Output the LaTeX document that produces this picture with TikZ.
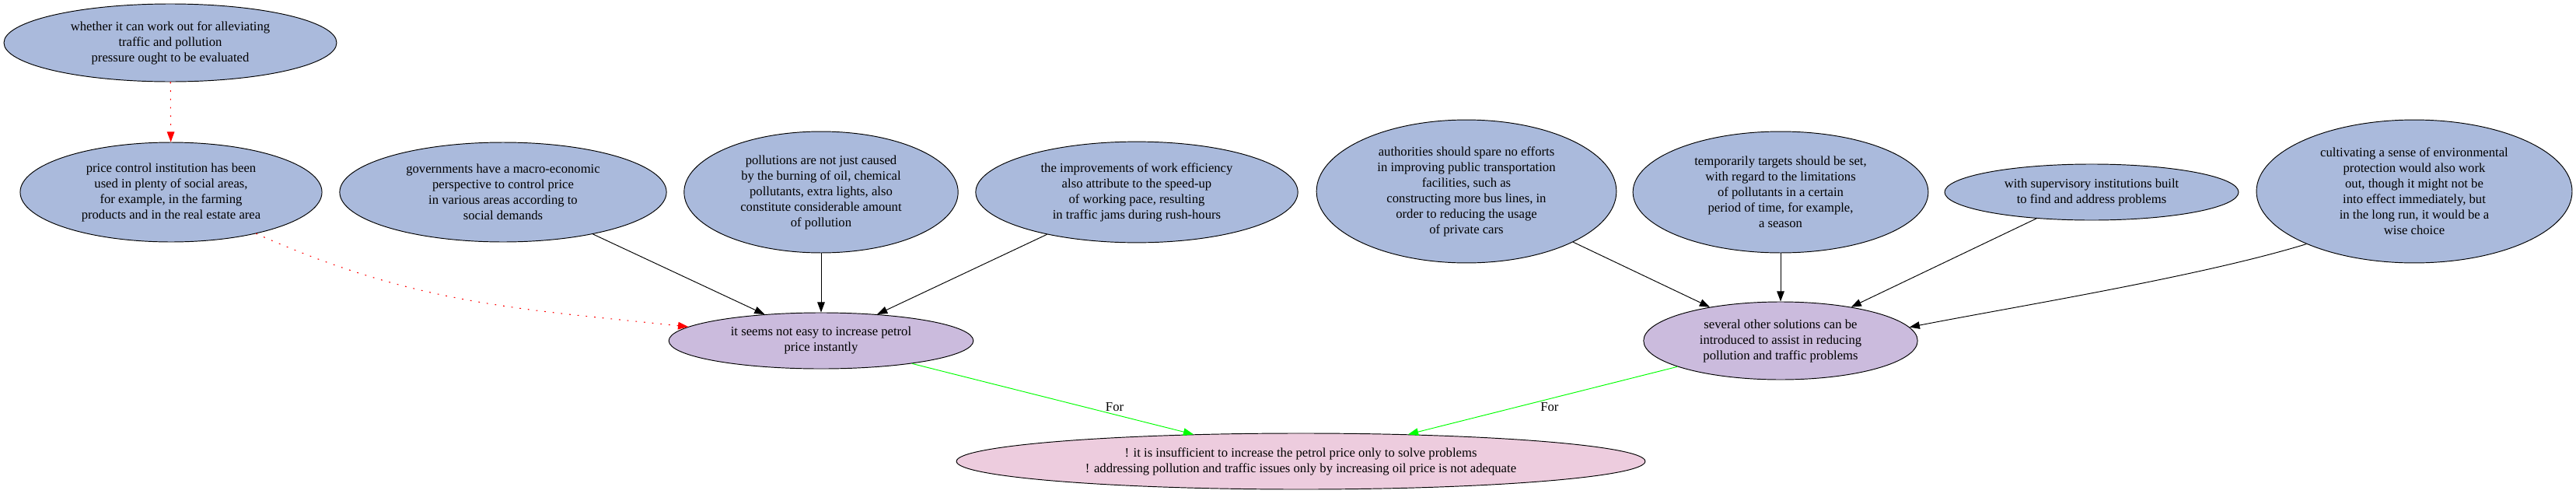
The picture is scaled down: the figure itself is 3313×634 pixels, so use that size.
\documentclass[tikz,border=0pt]{standalone}
\usepackage{fontspec}
\setmainfont{Liberation Serif}
\usepackage{xcolor}
\usetikzlibrary{shapes.geometric,arrows.meta}

\definecolor{premisefill}{RGB}{170,186,220}
\definecolor{claimfill}{RGB}{203,187,221}
\definecolor{majorfill}{RGB}{237,204,222}

\begin{document}
\begin{tikzpicture}[x=0.84pt, y=0.84pt,
  arg/.style={ellipse, draw=black, line width=0.8pt, inner sep=0pt, align=center,
    font=\fontsize{14pt}{16.8pt}\selectfont},
  premise/.style={arg, fill=premisefill},
  claim/.style={arg, fill=claimfill},
  major/.style={arg, fill=majorfill},
  support/.style={draw=black, line width=0.8pt, -{Triangle[length=11pt, width=8pt]}},
  rebut/.style={draw=red, line width=0.9pt, dash pattern=on 1.5pt off 7.5pt,
    -{Triangle[length=11pt, width=8pt, fill=red]}},
  pro/.style={draw=green, line width=0.8pt, -{Triangle[length=11pt, width=8pt, fill=green]}},
  forlbl/.style={font=\fontsize{14pt}{16.8pt}\selectfont, anchor=west, xshift=20pt}]
  % Fix the page size
  \useasboundingbox (0,0) rectangle (3313,-634);

  % Top row of premises
  \node[premise, minimum width=359.5pt, minimum height=84pt] (evaluate) at (219,-55)
    {whether it can work out for alleviating\\traffic and pollution\\pressure ought to be evaluated};
  \node[premise, minimum width=326pt, minimum height=107.5pt] (pricectrl) at (220,-247)
    {price control institution has been\\used in plenty of social areas,\\for example, in the farming\\products and in the real estate area};
  \node[premise, minimum width=353pt, minimum height=107.5pt] (macro) at (647,-247)
    {governments have a macro-economic\\perspective to control price\\in various areas according to\\social demands};
  \node[premise, minimum width=296pt, minimum height=131pt] (pollsrc) at (1056,-247)
    {pollutions are not just caused\\by the burning of oil, chemical\\pollutants, extra lights, also\\constitute considerable amount\\of pollution};
  \node[premise, minimum width=348pt, minimum height=109pt] (workpace) at (1462,-247)
    {the improvements of work efficiency\\also attribute to the speed-up\\of working pace, resulting\\in traffic jams during rush-hours};
  \node[premise, minimum width=324pt, minimum height=154.5pt] (transport) at (1886,-246)
    {authorities should spare no efforts\\in improving public transportation\\facilities, such as\\constructing more bus lines, in\\order to reducing the usage\\of private cars};
  \node[premise, minimum width=319pt, minimum height=131pt] (targets) at (2290,-247)
    {temporarily targets should be set,\\with regard to the limitations\\of pollutants in a certain\\period of time, for example,\\a season};
  \node[premise, minimum width=317.5pt, minimum height=60.5pt] (supervise) at (2690,-247)
    {with supervisory institutions built\\to find and address problems};
  \node[premise, minimum width=341pt, minimum height=154.5pt] (awareness) at (3105,-246)
    {cultivating a sense of environmental\\protection would also work\\out, though it might not be\\into effect immediately, but\\in the long run, it would be a\\wise choice};

  % Claims
  \node[claim, minimum width=329pt, minimum height=60.5pt] (noteasy) at (1056,-438)
    {it seems not easy to increase petrol\\price instantly};
  \node[claim, minimum width=296pt, minimum height=84pt] (othersol) at (2290,-438)
    {several other solutions can be\\introduced to assist in reducing\\pollution and traffic problems};
  \node[major, minimum width=744pt, minimum height=60.5pt] (insuff) at (1673,-593)
    {! it is insufficient to increase the petrol price only to solve problems\\! addressing pollution and traffic issues only by increasing oil price is not adequate};

  % Edges
  \draw[rebut] (evaluate) -- (pricectrl);
  \draw[rebut] (pricectrl.-26) to[out=-24, in=174] (noteasy.174);
  \draw[support] (macro) -- (noteasy);
  \draw[support] (pollsrc) -- (noteasy);
  \draw[support] (workpace) -- (noteasy);
  \draw[support] (transport) -- (othersol);
  \draw[support] (targets) -- (othersol);
  \draw[support] (supervise) -- (othersol);
  \draw[support] (awareness.206) to[out=197, in=11, looseness=0.7] (othersol.6);
  \draw[pro] (noteasy) -- node[forlbl, pos=0.61] {For} (insuff);
  \draw[pro] (othersol) -- node[forlbl, pos=0.59] {For} (insuff);
\end{tikzpicture}
\end{document}
